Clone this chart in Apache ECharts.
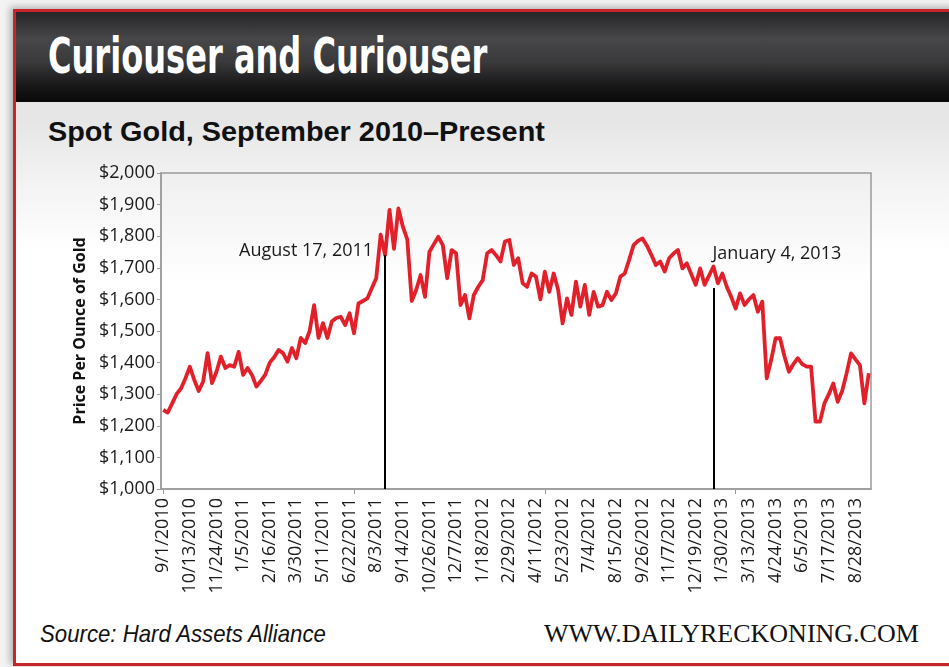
<!DOCTYPE html>
<html>
<head>
<meta charset="utf-8">
<script src="https://cdn.jsdelivr.net/npm/echarts@6/dist/echarts.min.js"></script>
<style>
html,body{margin:0;padding:0;width:949px;height:667px;overflow:hidden;background:#f3f3f3;}
#card{position:absolute;left:13px;top:9px;width:960px;height:651px;border:3px solid #c9232b;border-right:none;
  background:linear-gradient(#e6e6e7 0px,#e6e6e7 110px,#f3f3f3 170px,#ffffff 240px,#ffffff 100%);
  box-shadow:-3px -2px 7px rgba(0,0,0,0.28);}
#header{position:absolute;left:16px;top:12px;width:940px;height:90px;
  background:linear-gradient(#262628 0%,#474749 30%,#3a3a3c 55%,#1a1a1b 80%,#080808 100%);}
.t{position:absolute;white-space:nowrap;transform-origin:0 0;}
#title{left:48px;top:31px;font-family:"Liberation Sans Narrow","DejaVu Sans Condensed",sans-serif;font-weight:bold;font-size:50px;line-height:50px;color:#fff;transform:scaleX(0.713);}
#sub{left:48px;top:118px;font-family:"Liberation Sans","Arial",sans-serif;font-weight:bold;font-size:28px;line-height:28px;color:#111;transform:scaleX(1.03);}
#src{left:40px;top:622px;font-family:"Liberation Sans Narrow","Liberation Sans",sans-serif;font-style:italic;font-size:24px;line-height:24px;color:#111;transform:scaleX(0.925);}
#www{left:544px;top:621px;font-family:"Liberation Serif","DejaVu Serif",serif;font-size:26px;line-height:26px;color:#111;}
#chart{position:absolute;left:0;top:0;width:949px;height:667px;}
</style>
</head>
<body>
<div id="card"></div>
<div id="header"></div>
<div class="t" id="title">Curiouser and Curiouser</div>
<div class="t" id="sub">Spot Gold, September 2010–Present</div>
<div class="t" id="src">Source: Hard Assets Alliance</div>
<div class="t" id="www">WWW.DAILYRECKONING.COM</div>
<div id="chart"></div>
<script>
// Weekly categories starting 9/1/2010
const startYear = 2010, startMonth = 9, startDay = 1, weekCount = 160;
const categories = [];
for (let i = 0; i < weekCount; i++) {
  const d = new Date(Date.UTC(startYear, startMonth - 1, startDay + 7 * i));
  categories.push((d.getUTCMonth() + 1) + '/' + d.getUTCDate() + '/' + d.getUTCFullYear());
}

// Spot gold price (USD/oz)
const goldPrice = [
  1250,1242,1270,1300,1318,1350,1387,1345,1310,1340,
  1430,1335,1371,1419,1383,1392,1387,1434,1361,1383,
  1361,1324,1342,1362,1400,1417,1440,1430,1403,1446,
  1414,1478,1462,1500,1582,1478,1525,1478,1530,1541,
  1545,1519,1556,1493,1587,1595,1603,1635,1667,1805,
  1740,1883,1760,1888,1830,1790,1595,1630,1677,1608,
  1751,1775,1798,1772,1667,1756,1746,1582,1614,1540,
  1614,1640,1661,1746,1756,1740,1720,1783,1788,1709,
  1730,1651,1640,1682,1672,1600,1688,1624,1682,1630,
  1524,1603,1551,1656,1577,1646,1551,1624,1577,1582,
  1624,1598,1619,1672,1682,1725,1772,1785,1793,1770,
  1741,1709,1720,1688,1730,1745,1756,1698,1714,1680,
  1646,1698,1646,1675,1704,1651,1682,1640,1608,1571,
  1619,1582,1600,1614,1561,1593,1350,1408,1477,1477,
  1420,1371,1395,1414,1395,1387,1387,1213,1213,1271,
  1300,1334,1276,1310,1366,1429,1410,1392,1271,1366
];

// Y axis ticks
const yMin = 1000, yMax = 2000, yStep = 100;

// Annotations: [category index, line top value, label, label level]
const annotIndex = [50, 124];
const annotTop = [1740, 1636];
const annotText = ['August 17, 2011', 'January 4, 2013'];
const annotLabelLevel = [1753, 1744];

function money(v) {
  const s = String(v);
  return '$' + (s.length > 3 ? s.slice(0, s.length - 3) + ',' + s.slice(-3) : s);
}

const chart = echarts.init(document.getElementById('chart'), null, {renderer: 'canvas'});
const font = '"Open Sans", "Noto Sans", sans-serif';
chart.setOption({
  backgroundColor: 'transparent',
  animation: false,
  grid: {
    left: 161, top: 173, right: 78, bottom: 178,
    show: true, borderColor: '#9b9b9b', borderWidth: 1.5,
    backgroundColor: new echarts.graphic.LinearGradient(0, 0, 0, 1, [
      {offset: 0, color: '#efefef'}, {offset: 0.35, color: '#ffffff'}, {offset: 1, color: '#ffffff'}
    ])
  },
  xAxis: {
    type: 'category',
    data: categories,
    boundaryGap: true,
    axisLine: {lineStyle: {color: '#9b9b9b', width: 1.5}},
    axisTick: {show: true, alignWithLabel: true, interval: 42, length: 5, lineStyle: {color: '#9b9b9b'}},
    axisLabel: {interval: 5, rotate: 90, margin: 9, color: '#1a1a1a', fontSize: 18, fontFamily: font}
  },
  yAxis: {
    type: 'value', min: yMin, max: yMax, interval: yStep,
    name: 'Price Per Ounce of Gold', nameLocation: 'middle', nameRotate: 90, nameGap: 70,
    nameTextStyle: {fontSize: 16, fontWeight: 'bold', color: '#111', fontFamily: font},
    axisLine: {show: true, lineStyle: {color: '#9b9b9b', width: 1.5}},
    axisTick: {show: true, length: 4, lineStyle: {color: '#9b9b9b'}},
    splitLine: {show: false},
    axisLabel: {formatter: money, margin: 6, color: '#1a1a1a', fontSize: 18, fontFamily: font}
  },
  series: [{
    type: 'line',
    data: goldPrice,
    showSymbol: false,
    symbol: 'none',
    lineStyle: {color: '#e2202a', width: 3.8, join: 'round'},
    markLine: {
      silent: true, symbol: 'none', label: {show: false},
      lineStyle: {color: '#000', width: 2, type: 'solid'},
      data: annotIndex.map((ix, k) => [
        {coord: [categories[ix], yMin]}, {coord: [categories[ix], annotTop[k]]}
      ])
    },
    markPoint: {
      silent: true, symbol: 'circle', symbolSize: 0,
      data: annotIndex.map((ix, k) => ({
        coord: [categories[ix], annotLabelLevel[k]],
        label: {
          show: true, formatter: annotText[k],
          position: k === 0 ? 'left' : 'right',
          distance: k === 0 ? 12 : -1,
          color: '#1a1a1a', fontSize: 18, fontFamily: font
        }
      }))
    }
  }]
});
</script>
</body>
</html>
